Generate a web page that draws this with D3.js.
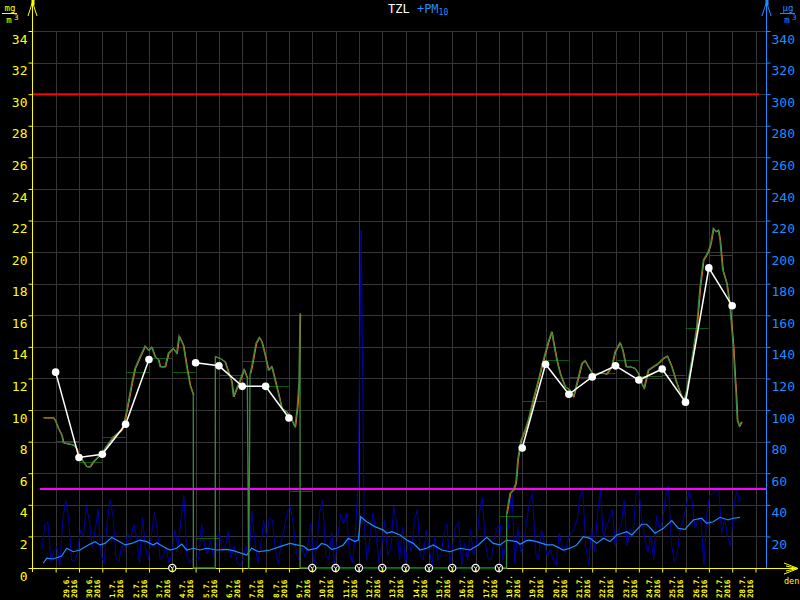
<!DOCTYPE html>
<html><head><meta charset="utf-8">
<script src="https://cdn.jsdelivr.net/npm/d3@7/dist/d3.min.js"></script>
<style>
body{margin:0;background:#000}
svg{display:block;background:#000}
text{font-family:"DejaVu Sans Mono","Liberation Mono",monospace}
</style>
</head><body>
<svg id="chart" width="800" height="600"></svg>
<script>
// ---------------- DATA ----------------
const dayLabels = ["29.6.","30.6.","1.7.","2.7.","3.7.","4.7.","5.7.","6.7.","7.7.","8.7.","9.7.","10.7.","11.7.","12.7.","13.7.","14.7.","15.7.","16.7.","17.7.","18.7.","19.7.","20.7.","21.7.","22.7.","23.7.","24.7.","25.7.","26.7.","27.7.","28.7."];
const yearLabel = "2016";
const leftTicks = [0,2,4,6,8,10,12,14,16,18,20,22,24,26,28,30,32,34];
const rightTicks = [20,40,60,80,100,120,140,160,180,200,220,240,260,280,300,320,340];
const limitTZL = 30;     // mg/m3 (red)
const limitPM10 = 50;    // µg/m3 (magenta)

// daily means of TZL, plotted at 00:00 of each labelled day (null = missing day)
const dailyMeans = [12.4,7.0,7.2,9.1,13.2,null,13.0,12.8,11.5,11.5,9.5,null,null,null,null,null,null,null,null,null,7.6,12.9,11.0,12.1,12.8,11.9,12.6,10.5,19.0,16.6];
// day-long level segments (from 00:00 of labelled day to next day)
const daySegments = [8.04,6.73,8.28,12.43,13.28,12.43,1.88,12.22,13.08,11.53,4.87,0,0,0,0,0,0,0,0,3.31,10.56,13.15,12.08,12.37,13.15,12.16,12.2,15.18,19.82,null];

// TZL running values: hours since 28.6.2016 00:00, mg/m3
const tzlHours = [11.3,21.6,23.4,26.7,30.2,31.9,42.2,45.7,47.3,52.5,56,59.4,62.8,67.9,71.4,76.5,83.3,92,95.4,98.8,102.3,105.6,110.8,115.9,119.3,122.8,126.2,129.6,131.4,136.5,139.9,145,148.5,150.9,155.3,158.8,162.2,165.6,165.7,188.2,188.3,193.1,198.2,201.6,205.1,206.8,210.3,213.7,217.8,221.2,222.5,222.7,224,225.7,230.1,233.5,236,239.4,242.8,246.3,249.7,253.1,256.6,261.7,266.8,270.2,272.6,274.3,275.4,275.5,487.9,488,489.7,491.4,494.8,497.3,498.3,499.3,500.7,502.7,506.8,510.2,515.4,520.5,525.7,530.8,534.3,536,539.5,542.9,548,553.2,556.6,560.1,565.2,568.6,571.9,577.1,584,590.9,596,599.4,604.5,607.3,610.7,614.8,619.9,623.3,626.8,629.2,633.6,638.8,643.9,649.1,653.2,657.7,662.9,668,670.4,673.2,678.3,683.5,686.9,690.3,695.4,697.9,700.5,703.3,705.7,707.4,710.2,714.3,717.7,719.4,721.1,722.8,723.9,725.2,727.3,729.7];
const tzlValues = [9.52,9.52,9.37,8.85,8.42,7.94,7.79,7.58,7.16,6.73,6.42,6.42,6.73,7.05,7.26,7.73,8.32,8.74,9.48,10.53,11.7,12.65,13.38,14.06,13.8,13.98,13.38,13.22,12.75,12.75,13.6,13.91,13.6,14.69,14.12,12.75,11.59,10.96,0,0,13.38,13.28,13.06,12.43,11.8,10.85,11.38,11.9,12.58,12.01,0,0,12.3,12.75,14.23,14.61,14.33,13.49,12.54,12.75,11.9,11.06,10.11,9.9,9.37,8.95,10.21,11.8,16.13,0,0,3.46,4.1,4.73,4.94,5.36,6,6.84,7.37,8.1,8.74,9.37,10.7,11.9,13.17,14.33,14.97,14.33,13.17,12.33,11.48,11.27,10.85,11.7,12.96,13.13,12.75,12.22,12.37,12.29,12.75,13.7,14.27,13.8,12.75,12.75,12.65,12.33,11.7,11.38,12.54,12.75,12.96,13.28,13.43,12.75,11.7,10.85,10.64,11.27,13.17,15.28,17.81,19.5,20.03,20.56,21.51,21.3,21.4,20.77,18.87,18.03,16.55,15.28,14.02,12.12,11.06,9.37,8.99,9.27];

// PM10 raw values (µg/m3), first at 28.6. 10:00, one every pm10StepHours
const pm10StartHour = 10;
const pm10StepHours = 3.04;
const pm10Values = [12,28,29,4,10,13.5,1,30,43,32,
5,4,10,24,20,39,30,13,24,37,
8,3,28,43,34,7,4,14,10,22,
18,28,20,3,32,13,5,20,35,25,
5,8,13,3,10,24,13,30,46,8,
3,6,5,6,28,14,9,18,7,14,
22,11,14,23,7,14,4,1,6,14,
5,36,17,3,14,30,20,32,30,11,
3,18,25,36,39,28,10,5,13,7,
15,28,2,15,36,43,8,5,23,2,
18,34,28,35,10,3,20,56,214,28,
5,20,35,22,3,15,30,8,12,39,
28,5,26,2,18,10,30,37,8,5,
24,12,2,20,5,8,22,28,3,15,
26,29,2,16,5,24,8,14,35,45,
15,6,5,18,25,28,5,16,29,51,
3,26,10,15,30,42,47,10,5,24,
16,7,12,5,2,22,14,10,18,22,
25,30,45,49,14,2,25,10,35,49,
18,27,31,37,14,23,28,43,14,25,
20,47,49,31,18,10,20,5,33,25,
30,45,52,15,4,10,25,30,39,49,
42,25,31,30,2,35,46,47,49,51,
22,31,20,14,36,49,42,45];

// PM10 running average: hours since 28.6. 00:00, µg/m3
const pmAvgHours = [11.3,14.8,21.3,30.2,35.4,42.2,49.1,57.6,64.5,69.6,74.8,81.7,86.8,95.4,102.3,110.8,117.7,124.5,128,134.8,141.7,148.5,153.7,158.8,165.6,172.5,179.4,189.7,200,206.8,220.6,225.7,232.5,241.1,244.5,254.8,265.1,272,278.8,283.9,292.6,297.7,302.9,308,313.1,319.9,325.1,332,335.4,337.8,344,352.5,361.1,364.6,369.7,378.3,385.1,392,398.8,405.7,412.5,421.2,429.7,440,450.3,458.8,467.5,474.3,481.2,488,498.3,501.7,508.6,512,518.9,529.2,536,546.3,553.2,560.1,566.9,573.8,580.7,587.5,594.4,601.3,611.6,616.7,627,632.1,640.7,649.2,657.9,664.7,671.4,680,688.6,693.7,700.5,707.4,715.9,721.1,728];
const pmAvgValues = [3,6.3,5.7,7.6,12.5,10.3,11.4,14.6,16.7,14.6,15.6,19.4,17.7,14.6,15.6,17.7,16.7,14.6,16,13.5,11.4,12.5,15.2,11.4,12.5,11.4,12.5,11.4,11.8,11,8.2,12.5,10.3,11,11.4,13.5,15.6,14.6,13.9,11.4,12.5,15.6,14.6,11.8,12.5,14.6,18.8,16.7,17.7,32.5,29.3,26.2,24,22,23,20.9,17.7,15.6,11.4,12.5,14.6,11.4,10.3,12.5,11.4,14.6,19.4,15.6,14.6,17.7,16.7,15,17.3,17.7,16.7,14.6,14.6,11.4,12.5,14.6,19.8,18.8,15.6,18.8,16.7,20.9,23,20.9,27.7,27.7,22,25.1,30,25.1,24.5,30.4,31.5,28.3,29.3,32.1,30.4,31.5,32.1];

// ---------------- CHART ----------------
const C = {yellow:"#ffff00", blue:"#1e8cff", grid:"#363636", green:"#3f8a3f", dkgreen:"#0b5a0b",
  orange:"#ff8000", navy:"#0000a8", red:"#ff0000", magenta:"#ff00ff"};
const svg = d3.select("#chart");
const T0 = Date.UTC(2016,5,28);
const H = 3600e3;
const atHour = h => new Date(T0 + h*H);
const dayStart = i => new Date(Date.UTC(2016,5,29+i)); // i = index in dayLabels

const x = d3.scaleUtc().domain([new Date(T0), new Date(Date.UTC(2016,6,29,10,48))]).range([32.3, 766]);
const yL = d3.scaleLinear().domain([0,34]).range([568,31]);
const yR = d3.scaleLinear().domain([0,340]).range([568,31]);
const xL = 32, xR = 766;

svg.append("rect").attr("width",800).attr("height",600).attr("fill","#000");

// grid
const grid = svg.append("g").attr("stroke",C.grid).attr("stroke-width",1).attr("shape-rendering","crispEdges");
grid.selectAll("line.h").data(leftTicks.filter(v=>v>0)).join("line")
  .attr("x1",xL).attr("x2",xR).attr("y1",d=>Math.round(yL(d))+0.5).attr("y2",d=>Math.round(yL(d))+0.5);
const dayLines = d3.utcDay.range(dayStart(0), x.domain()[1]);
grid.selectAll("line.v").data(dayLines).join("line")
  .attr("x1",d=>Math.round(x(d))+0.5).attr("x2",d=>Math.round(x(d))+0.5).attr("y1",yL(34)).attr("y2",yL(0));

// PM10 raw (dark blue)
const pm10 = pm10Values.map((v,i)=>[atHour(pm10StartHour + i*pm10StepHours), v]);
svg.append("path").datum(pm10).attr("fill","none").attr("stroke",C.navy).attr("stroke-width",1)
  .attr("d", d3.line().x(d=>x(d[0])).y(d=>yR(d[1])));

// limits
svg.append("line").attr("x1",xL).attr("x2",759).attr("y1",yL(limitTZL)).attr("y2",yL(limitTZL))
  .attr("stroke",C.red).attr("stroke-width",2);
svg.append("line").attr("x1",40).attr("x2",xR).attr("y1",yR(limitPM10)).attr("y2",yR(limitPM10))
  .attr("stroke",C.magenta).attr("stroke-width",2);

// PM10 average (light blue)
const pmAvg = d3.zip(pmAvgHours, pmAvgValues).map(d=>[atHour(d[0]), d[1]]);
svg.append("path").datum(pmAvg).attr("fill","none").attr("stroke",C.blue).attr("stroke-width",1.2)
  .attr("d", d3.line().x(d=>x(d[0])).y(d=>yR(d[1])));

// axes lines
svg.append("line").attr("x1",xL+0.5).attr("x2",xL+0.5).attr("y1",1).attr("y2",572).attr("stroke",C.yellow);
svg.append("line").attr("x1",xR+0.5).attr("x2",xR+0.5).attr("y1",1).attr("y2",568).attr("stroke",C.blue);
svg.append("line").attr("x1",xL).attr("x2",795).attr("y1",568.5).attr("y2",568.5).attr("stroke",C.yellow);

// day segments (dark green)
const segs = daySegments.map((v,i)=>({i,v})).filter(d=>d.v!==null);
svg.append("g").selectAll("line").data(segs).join("line")
  .attr("x1",d=>x(dayStart(d.i))).attr("x2",d=>x(dayStart(d.i+1)))
  .attr("y1",d=>Math.round(yL(d.v))+0.5).attr("y2",d=>Math.round(yL(d.v))+0.5)
  .attr("stroke",C.dkgreen).attr("stroke-width",1);

// TZL running values: orange trace slightly behind the green one
const tzl = d3.zip(tzlHours, tzlValues).map(d=>[atHour(d[0]), d[1]]);
const tzlLine = d3.line().x(d=>x(d[0])).y(d=>yL(d[1]));
svg.append("path").datum(tzl).attr("fill","none").attr("stroke",C.orange).attr("stroke-width",1)
  .attr("transform","translate(0.7,0.4)").attr("d", tzlLine.defined(d=>d[1]>0)(tzl));
tzlLine.defined(()=>true);
svg.append("path").datum(tzl).attr("fill","none").attr("stroke",C.green).attr("stroke-width",1.3)
  .attr("d", tzlLine);

// zero segments on missing days drawn on top (dark green)
svg.append("g").selectAll("line").data(segs.filter(d=>d.v===0)).join("line")
  .attr("x1",d=>x(dayStart(d.i))).attr("x2",d=>x(dayStart(d.i+1)))
  .attr("y1",568.5).attr("y2",568.5).attr("stroke",C.dkgreen).attr("stroke-width",1.5);

// daily means (white)
const means = dailyMeans.map((v,i)=>({t:dayStart(i), v}));
svg.append("path").datum(means).attr("fill","none").attr("stroke","#fff").attr("stroke-width",1.5)
  .attr("d", d3.line().defined(d=>d.v!==null).x(d=>x(d.t)).y(d=>yL(d.v)));
svg.append("g").selectAll("circle").data(means.filter(d=>d.v!==null)).join("circle")
  .attr("cx",d=>x(d.t)).attr("cy",d=>yL(d.v)).attr("r",3.8).attr("fill","#fff");

// missing-day markers
const miss = svg.append("g").selectAll("g").data(means.filter(d=>d.v===null)).join("g")
  .attr("transform",d=>`translate(${x(d.t)},568)`);
miss.append("circle").attr("r",3.6).attr("fill","#000").attr("stroke","#fff").attr("stroke-width",1.2);
miss.append("path").attr("d","M-1.8,-1.8L0,0.5L1.8,-1.8M0,0.5V3").attr("stroke","#fff").attr("fill","none").attr("stroke-width",1);

// left axis
const axL = svg.append("g").attr("transform",`translate(${xL+0.5},0)`)
  .call(d3.axisLeft(yL).tickValues(leftTicks).tickSize(4).tickPadding(1).tickSizeOuter(0));
axL.select(".domain").remove();
axL.selectAll("line").attr("stroke",C.yellow);
axL.selectAll("text").attr("fill",C.yellow).attr("font-size",13).attr("dy","0.93em")
  .attr("font-family","DejaVu Sans Mono");
// right axis
const axR = svg.append("g").attr("transform",`translate(${xR+0.5},0)`)
  .call(d3.axisRight(yR).tickValues(rightTicks).tickSize(4).tickPadding(1).tickSizeOuter(0));
axR.select(".domain").remove();
axR.selectAll("line").attr("stroke",C.blue);
axR.selectAll("text").attr("fill",C.blue).attr("font-size",13).attr("dy","0.93em")
  .attr("font-family","DejaVu Sans Mono");
// bottom ticks
const axB = svg.append("g").attr("transform","translate(0,568.5)")
  .call(d3.axisBottom(x).tickValues(dayLines).tickSize(4).tickFormat(""));
axB.select(".domain").remove();
axB.selectAll("line").attr("stroke",C.yellow);

// date labels (rotated, two lines)
const lab = svg.append("g").selectAll("g").data(dayLabels).join("g")
  .attr("transform",(d,i)=>`translate(${x(new Date(dayStart(i).getTime()+12*H))},598)`);
lab.append("text").attr("transform","translate(1.5,0) rotate(-90)").text(d=>d)
  .attr("fill",C.yellow).attr("font-size",7.6).attr("font-weight","bold");
lab.append("text").attr("transform","translate(9.5,0) rotate(-90)").text(yearLabel)
  .attr("fill",C.yellow).attr("font-size",7.6).attr("font-weight","bold");

// axis arrows
svg.append("path").attr("d",`M${xL-4},16L${xL+0.5},2L${xL+5},16`).attr("fill","none").attr("stroke",C.yellow);
svg.append("rect").attr("x",xL-0.5).attr("y",0).attr("width",3).attr("height",5).attr("fill",C.yellow);
svg.append("path").attr("d",`M${xR-4},16L${xR+0.5},2L${xR+5},16`).attr("fill","none").attr("stroke",C.blue);
svg.append("rect").attr("x",xR-0.5).attr("y",0).attr("width",3).attr("height",5).attr("fill",C.blue);
svg.append("path").attr("d","M784,563L798,568.5L784,574M786,566L797,568.5L786,571").attr("fill","none").attr("stroke",C.yellow);
svg.append("text").attr("x",784).attr("y",584).text("den").attr("fill",C.yellow).attr("font-size",8.5);

// units
function unit(cx, num, color){
  const g = svg.append("g").attr("fill",color);
  g.append("text").attr("x",cx).attr("y",11).attr("text-anchor","middle").attr("font-size",9).text(num);
  g.append("line").attr("x1",cx-8).attr("x2",cx+7).attr("y1",13.5).attr("y2",13.5).attr("stroke",color);
  g.append("text").attr("x",cx-1).attr("y",23).attr("text-anchor","middle").attr("font-size",9).text("m");
  g.append("text").attr("x",cx+4).attr("y",20).attr("font-size",7.5).text("3");
}
unit(10, "mg", C.yellow);
unit(788, "µg", C.blue);

// title
const title = svg.append("text").attr("x",388).attr("y",13).attr("font-size",12);
title.append("tspan").attr("fill","#fff").text("TZL ");
title.append("tspan").attr("fill",C.blue).text("+PM");
title.append("tspan").attr("fill",C.blue).attr("font-size",8).attr("dy",2).text("10");
</script>
</body></html>
